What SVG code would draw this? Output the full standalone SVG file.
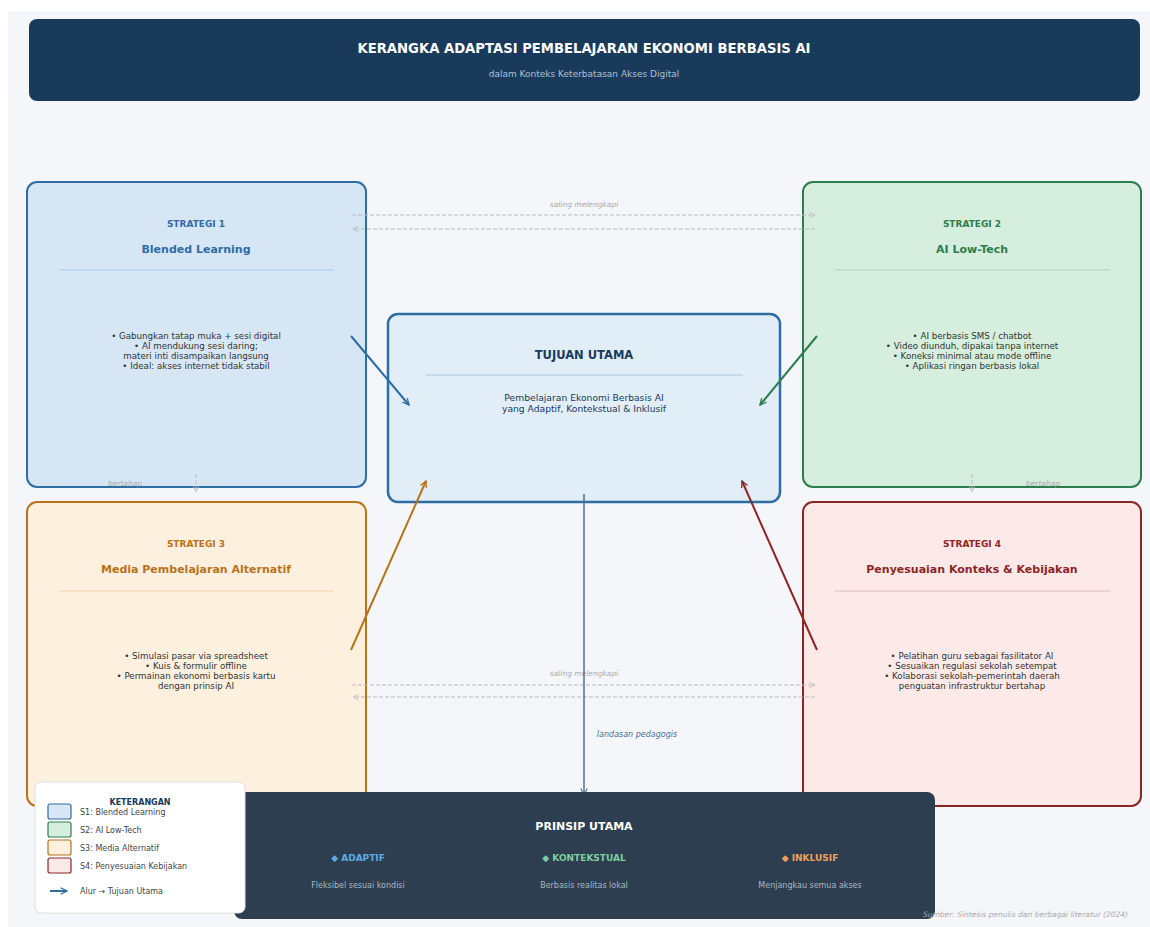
<svg xmlns="http://www.w3.org/2000/svg" width="1150" height="927" viewBox="0 0 1150 927">
<defs>
<style>
text{font-family:"DejaVu Sans","Liberation Sans",sans-serif;text-anchor:middle}
.lbl{font-size:9px;font-weight:bold}
.ttl{font-size:11px;font-weight:bold}
.body{font-size:8.7px;fill:#333}
.dash{stroke:#bbbbbb;stroke-width:1;stroke-dasharray:4,2;fill:none}
.note{font-size:7.5px;font-style:italic;fill:#aaaaaa}
.leg{font-size:8px;fill:#444;text-anchor:start}
</style>
<marker id="ab" viewBox="0 0 10 10" refX="9" refY="5" markerWidth="8" markerHeight="8" orient="auto-start-reverse" markerUnits="userSpaceOnUse"><path d="M1,1 L9,5 L1,9" fill="none" stroke="#2e6da4" stroke-width="1.6"/></marker>
<marker id="ag" viewBox="0 0 10 10" refX="9" refY="5" markerWidth="8" markerHeight="8" orient="auto" markerUnits="userSpaceOnUse"><path d="M1,1 L9,5 L1,9" fill="none" stroke="#2e7d4f" stroke-width="1.6"/></marker>
<marker id="ao" viewBox="0 0 10 10" refX="9" refY="5" markerWidth="8" markerHeight="8" orient="auto" markerUnits="userSpaceOnUse"><path d="M1,1 L9,5 L1,9" fill="none" stroke="#b8731a" stroke-width="1.6"/></marker>
<marker id="ar" viewBox="0 0 10 10" refX="9" refY="5" markerWidth="8" markerHeight="8" orient="auto" markerUnits="userSpaceOnUse"><path d="M1,1 L9,5 L1,9" fill="none" stroke="#8b2626" stroke-width="1.6"/></marker>
<marker id="agr" viewBox="0 0 10 10" refX="9" refY="5" markerWidth="7" markerHeight="7" orient="auto" markerUnits="userSpaceOnUse"><path d="M1,1 L9,5 L1,9" fill="none" stroke="#bbbbbb" stroke-width="1.2"/></marker>
<marker id="asl" viewBox="0 0 10 10" refX="9" refY="5" markerWidth="8" markerHeight="8" orient="auto" markerUnits="userSpaceOnUse"><path d="M1,1 L9,5 L1,9" fill="none" stroke="#4a6f94" stroke-width="1.4"/></marker>
</defs>
<rect x="0" y="0" width="1150" height="927" fill="#ffffff"/>
<rect x="8" y="11" width="1142" height="916" fill="#f4f6fa"/>

<g id="header">
<rect x="29" y="19" width="1111" height="82" rx="8" fill="#1a3a5c"/>
<text x="584" y="53" style="font-size:13.2px;font-weight:bold;fill:#ffffff">KERANGKA ADAPTASI PEMBELAJARAN EKONOMI BERBASIS AI</text>
<text x="584" y="77" style="font-size:9px;fill:#a9c0d8">dalam Konteks Keterbatasan Akses Digital</text>
</g>

<g id="s1">
<rect x="27" y="182" width="339" height="305" rx="10" fill="#d6e6f5" stroke="#2e6da4" stroke-width="2"/>
<text x="196" y="227" class="lbl" fill="#2e6da4">STRATEGI 1</text>
<text x="196" y="253" class="ttl" fill="#2e6da4">Blended Learning</text>
<line x1="59" y1="270" x2="334" y2="270" stroke="#a9c8e6" stroke-width="1"/>
<text x="196" y="339" class="body">• Gabungkan tatap muka + sesi digital</text>
<text x="196" y="349" class="body">• AI mendukung sesi daring;</text>
<text x="196" y="359" class="body">materi inti disampaikan langsung</text>
<text x="196" y="369" class="body">• Ideal: akses internet tidak stabil</text>
</g>

<g id="s2">
<rect x="803" y="182" width="338" height="305" rx="10" fill="#d5eedd" stroke="#2e7d4f" stroke-width="2"/>
<text x="972" y="227" class="lbl" fill="#2e7d4f">STRATEGI 2</text>
<text x="972" y="253" class="ttl" fill="#2e7d4f">AI Low-Tech</text>
<line x1="835" y1="270" x2="1110" y2="270" stroke="#a8d5b8" stroke-width="1"/>
<text x="972" y="339" class="body">• AI berbasis SMS / chatbot</text>
<text x="972" y="349" class="body">• Video diunduh, dipakai tanpa internet</text>
<text x="972" y="359" class="body">• Koneksi minimal atau mode offline</text>
<text x="972" y="369" class="body">• Aplikasi ringan berbasis lokal</text>
</g>

<g id="s3">
<rect x="27" y="502" width="339" height="304" rx="10" fill="#fdf0df" stroke="#b8731a" stroke-width="2"/>
<text x="196" y="547" class="lbl" fill="#b8731a">STRATEGI 3</text>
<text x="196" y="573" class="ttl" fill="#b8731a">Media Pembelajaran Alternatif</text>
<line x1="59" y1="591" x2="334" y2="591" stroke="#ecd3a8" stroke-width="1"/>
<text x="196" y="659" class="body">• Simulasi pasar via spreadsheet</text>
<text x="196" y="669" class="body">• Kuis &amp; formulir offline</text>
<text x="196" y="679" class="body">• Permainan ekonomi berbasis kartu</text>
<text x="196" y="689" class="body">dengan prinsip AI</text>
</g>

<g id="s4">
<rect x="803" y="502" width="338" height="304" rx="10" fill="#fce9e8" stroke="#8b2626" stroke-width="2"/>
<text x="972" y="547" class="lbl" fill="#8b2626">STRATEGI 4</text>
<text x="972" y="573" class="ttl" fill="#8b2626">Penyesuaian Konteks &amp; Kebijakan</text>
<line x1="835" y1="591" x2="1110" y2="591" stroke="#e0bcbc" stroke-width="1"/>
<text x="972" y="659" class="body">• Pelatihan guru sebagai fasilitator AI</text>
<text x="972" y="669" class="body">• Sesuaikan regulasi sekolah setempat</text>
<text x="972" y="679" class="body">• Kolaborasi sekolah-pemerintah daerah</text>
<text x="972" y="689" class="body">penguatan infrastruktur bertahap</text>
</g>

<g id="center">
<rect x="388" y="314" width="392" height="188" rx="10" fill="#e1edf7" stroke="#2e6da4" stroke-width="2.5"/>
<text x="584" y="359" style="font-size:11.5px;font-weight:bold;fill:#1a3a5c">TUJUAN UTAMA</text>
<line x1="426" y1="375" x2="743" y2="375" stroke="#a9c8e6" stroke-width="1.2"/>
<text x="584" y="401" style="font-size:9.2px;fill:#1a3a5c">Pembelajaran Ekonomi Berbasis AI</text>
<text x="584" y="412" style="font-size:9.2px;fill:#1a3a5c">yang Adaptif, Kontekstual &amp; Inklusif</text>
</g>

<g id="connectors">
<line x1="351" y1="336" x2="409" y2="405" stroke="#2e6da4" stroke-width="2" marker-end="url(#ab)"/>
<line x1="817" y1="336" x2="760" y2="405" stroke="#2e7d4f" stroke-width="2" marker-end="url(#ag)"/>
<line x1="351" y1="650" x2="426" y2="481" stroke="#b8731a" stroke-width="2" marker-end="url(#ao)"/>
<line x1="817" y1="650" x2="742" y2="481" stroke="#8b2626" stroke-width="2" marker-end="url(#ar)"/>
<line x1="352" y1="215" x2="815" y2="215" class="dash" marker-end="url(#agr)"/>
<line x1="815" y1="229" x2="353" y2="229" class="dash" marker-end="url(#agr)"/>
<text x="584" y="207" class="note">saling melengkapi</text>
<line x1="352" y1="685" x2="815" y2="685" class="dash" marker-end="url(#agr)"/>
<line x1="815" y1="697" x2="353" y2="697" class="dash" marker-end="url(#agr)"/>
<text x="584" y="676" class="note">saling melengkapi</text>
<line x1="196" y1="474" x2="196" y2="492" class="dash" marker-end="url(#agr)"/>
<text x="125" y="486" class="note">bertahap</text>
<line x1="972" y1="474" x2="972" y2="492" class="dash" marker-end="url(#agr)"/>
<text x="1043" y="486" class="note">bertahap</text>
<line x1="584" y1="494" x2="584" y2="795" stroke="#4a6f94" stroke-width="1.5" marker-end="url(#asl)"/>
<text x="637" y="737" style="font-size:8px;font-style:italic;fill:#4a6f94">landasan pedagogis</text>
</g>

<g id="prinsip">
<rect x="234" y="792" width="701" height="127" rx="8" fill="#2c3e50"/>
<text x="584" y="830" style="font-size:11px;font-weight:bold;fill:#ffffff">PRINSIP UTAMA</text>
<text x="358" y="861" style="font-size:9px;font-weight:bold;fill:#5dade2">◆ ADAPTIF</text>
<text x="584" y="861" style="font-size:9px;font-weight:bold;fill:#7dcea0">◆ KONTEKSTUAL</text>
<text x="810" y="861" style="font-size:9px;font-weight:bold;fill:#f0a05a">◆ INKLUSIF</text>
<text x="358" y="888" style="font-size:8px;fill:#aab7c4">Fleksibel sesuai kondisi</text>
<text x="584" y="888" style="font-size:8px;fill:#aab7c4">Berbasis realitas lokal</text>
<text x="810" y="888" style="font-size:8px;fill:#aab7c4">Menjangkau semua akses</text>
</g>

<g id="legend">
<rect x="35" y="782" width="210" height="131" rx="6" fill="#ffffff" stroke="#dddddd" stroke-width="1"/>
<text x="140" y="805" style="font-size:8px;font-weight:bold;fill:#1a3a5c">KETERANGAN</text>
<rect x="48" y="804" width="23" height="15" rx="2" fill="#d6e6f5" stroke="#2e6da4" stroke-width="1.2"/>
<text x="80" y="815" class="leg">S1: Blended Learning</text>
<rect x="48" y="822" width="23" height="15" rx="2" fill="#d5eedd" stroke="#2e7d4f" stroke-width="1.2"/>
<text x="80" y="833" class="leg">S2: AI Low-Tech</text>
<rect x="48" y="840" width="23" height="15" rx="2" fill="#fdf0df" stroke="#b8731a" stroke-width="1.2"/>
<text x="80" y="851" class="leg">S3: Media Alternatif</text>
<rect x="48" y="858" width="23" height="15" rx="2" fill="#fce9e8" stroke="#8b2626" stroke-width="1.2"/>
<text x="80" y="869" class="leg">S4: Penyesuaian Kebijakan</text>
<line x1="50" y1="891" x2="67" y2="891" stroke="#2e6da4" stroke-width="2" marker-end="url(#ab)"/>
<text x="80" y="894" class="leg">Alur → Tujuan Utama</text>
</g>

<text x="1128" y="917" style="font-size:7.5px;font-style:italic;fill:#aaaaaa;text-anchor:end">Sumber: Sintesis penulis dari berbagai literatur (2024)</text>
</svg>
